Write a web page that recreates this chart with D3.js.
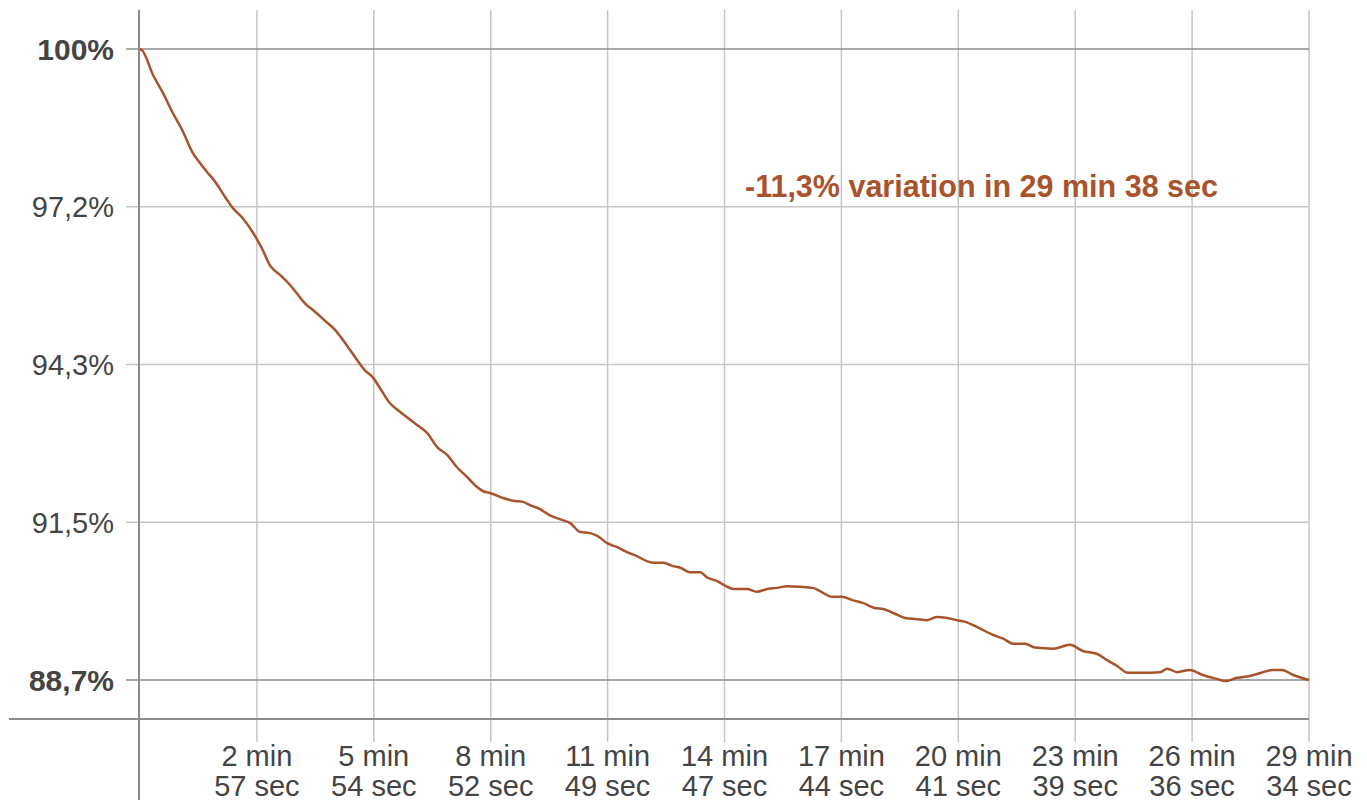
<!DOCTYPE html>
<html>
<head>
<meta charset="utf-8">
<script src="https://cdn.jsdelivr.net/npm/d3@7"></script>
<style>
  body { margin: 0; background: #fff; }
  text { font-family: "Liberation Sans", Arial, sans-serif; }
</style>
</head>
<body>
<div id="chart"></div>
<script>
// temps écoulé (secondes) et niveau relatif (%)
const seconds = [0,3,20,35,50,64,80,91,103,111,132,141,156,172,185,197,213,228,235,250,266,281,296,311,326,341,354,364,379,395,420,436,451,466,481,496,511,521,531,551,566,581,592,607,622,637,653,668,683,694,709,724,739,754,769,779,794,809,820,835,850,860,876,891,900,921,936,952,967,982,1002,1021,1032,1050,1065,1081,1097,1115,1128,1143,1161,1179,1194,1209,1225,1240,1252,1270,1294,1310,1325,1343,1358,1386,1411,1431,1452,1467,1483,1499,1518,1548,1559,1574,1593,1613,1634,1647,1665,1684,1704,1719,1733,1750,1774];
const percent = [100,99.98,99.53,99.21,98.85,98.55,98.14,97.96,97.78,97.67,97.30,97.15,96.97,96.70,96.43,96.13,95.95,95.77,95.67,95.45,95.29,95.13,94.97,94.74,94.49,94.25,94.11,93.93,93.66,93.50,93.27,93.12,92.87,92.73,92.51,92.34,92.16,92.08,92.05,91.96,91.91,91.89,91.83,91.76,91.65,91.58,91.51,91.35,91.33,91.28,91.15,91.08,90.99,90.92,90.83,90.80,90.80,90.74,90.71,90.63,90.63,90.54,90.47,90.37,90.33,90.33,90.28,90.33,90.35,90.38,90.37,90.35,90.29,90.19,90.19,90.13,90.08,89.99,89.97,89.90,89.81,89.79,89.77,89.83,89.81,89.77,89.74,89.65,89.51,89.44,89.35,89.35,89.28,89.26,89.33,89.22,89.17,89.06,88.95,88.83,88.83,88.84,88.90,88.84,88.88,88.79,88.72,88.68,88.74,88.77,88.84,88.88,88.88,88.79,88.70];

// graduations
const xTicks = [177.4,354.8,532.2,709.6,887,1064.4,1241.8,1419.2,1596.6,1774];
const xLabels = [["2 min","57 sec"],["5 min","54 sec"],["8 min","52 sec"],["11 min","49 sec"],["14 min","47 sec"],["17 min","44 sec"],["20 min","41 sec"],["23 min","39 sec"],["26 min","36 sec"],["29 min","34 sec"]];
const yTicks = [100, 97.175, 94.35, 91.525, 88.7];
const yLabels = ["100%", "97,2%", "94,3%", "91,5%", "88,7%"];
const annotation = "-11,3% variation in 29 min 38 sec";

const width = 1367, height = 800;
const lineColor = "#a9532c";

const svg = d3.select("#chart").append("svg")
    .attr("width", width)
    .attr("height", height);

const x = d3.scaleLinear().domain([0, 1774]).range([140, 1309]);
const y = d3.scaleLinear().domain([88.7, 100]).range([680, 49]);

// --- grille verticale ---
svg.append("g")
    .selectAll("line")
    .data(xTicks)
    .join("line")
    .attr("x1", d => x(d)).attr("x2", d => x(d))
    .attr("y1", 10).attr("y2", 742)
    .attr("stroke", "#c6c6c6")
    .attr("stroke-width", 1.5);

// --- grille horizontale ---
svg.append("g")
    .selectAll("line")
    .data(yTicks)
    .join("line")
    .attr("x1", 126).attr("x2", 1309)
    .attr("y1", d => y(d)).attr("y2", d => y(d))
    .attr("stroke", (d, i) => (i === 0 || i === yTicks.length - 1) ? "#8c8c8c" : "#c6c6c6")
    .attr("stroke-width", 1.5);

// --- axes ---
svg.append("line")
    .attr("x1", 139).attr("x2", 139)
    .attr("y1", 10).attr("y2", 800)
    .attr("stroke", "#8c8c8c").attr("stroke-width", 2);

svg.append("line")
    .attr("x1", 9).attr("x2", 1309)
    .attr("y1", 719).attr("y2", 719)
    .attr("stroke", "#8c8c8c").attr("stroke-width", 2);

// libellés Y
svg.append("g")
    .selectAll("text")
    .data(yTicks)
    .join("text")
    .attr("x", 114)
    .attr("y", d => y(d))
    .attr("dy", "0.36em")
    .attr("text-anchor", "end")
    .attr("font-size", (d, i) => (i === 0 || i === yTicks.length - 1) ? 30 : 29)
    .attr("font-weight", (d, i) => (i === 0 || i === yTicks.length - 1) ? "bold" : "normal")
    .attr("fill", "#444")
    .text((d, i) => yLabels[i]);

// libellés X (deux lignes)
const xl = svg.append("g")
    .selectAll("text")
    .data(xTicks)
    .join("text")
    .attr("text-anchor", "middle")
    .attr("font-size", 29)
    .attr("fill", "#444");

xl.each(function(d, i) {
    const t = d3.select(this);
    t.append("tspan").attr("x", x(d)).attr("y", 766).text(xLabels[i][0]);
    t.append("tspan").attr("x", x(d)).attr("y", 796).text(xLabels[i][1]);
});

// --- courbe ---
const data = seconds.map((s, i) => ({ s: s, v: percent[i] }));

const line = d3.line()
    .x(d => x(d.s))
    .y(d => y(d.v))
    .curve(d3.curveMonotoneX);

svg.append("path")
    .datum(data)
    .attr("d", line)
    .attr("fill", "none")
    .attr("stroke", lineColor)
    .attr("stroke-width", 2.5)
    .attr("stroke-linejoin", "round");

// --- annotation ---
svg.append("text")
    .attr("x", 745)
    .attr("y", 197)
    .attr("font-size", 30.5)
    .attr("font-weight", "bold")
    .attr("fill", lineColor)
    .text(annotation);
</script>
</body>
</html>
